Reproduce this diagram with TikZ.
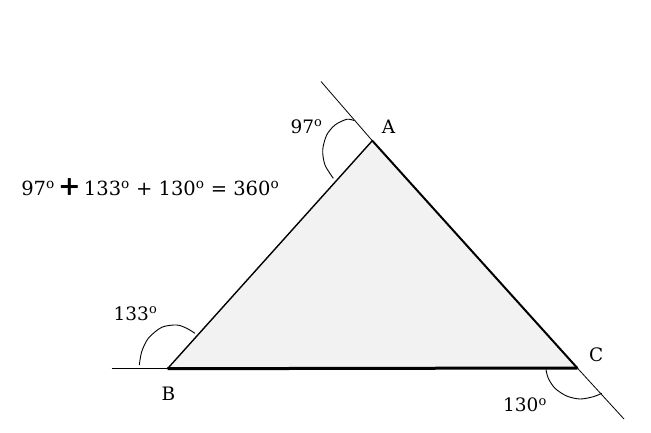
\documentclass[tikz,border=0pt]{standalone}
\usepackage{fontspec}
\setmainfont{DejaVu Serif}
\newcommand{\dg}{\textsuperscript{o}}
\begin{document}
\begin{tikzpicture}[x=1pt,y=-1pt,
  lbl/.style={inner sep=0pt,font=\fontsize{18.5}{22}\selectfont,anchor=base},
  ext/.style={line width=0.8pt},
  arcln/.style={line width=0.9pt}]
\useasboundingbox (0,0) rectangle (651,432);
\coordinate (A) at (372.3,140.7);
\coordinate (B) at (167.5,368.7);
\coordinate (C) at (577.3,368);
\coordinate (EA) at (321,81.5);
\coordinate (EC) at (624,419);
\coordinate (EB) at (111.5,368.7);
\fill[black!5] (A) -- (B) -- (C) -- cycle;
\draw[ext] (EA) -- (A);
\draw[ext] (C) -- (EC);
\draw[ext] (EB) -- (B);
\draw[line width=1.4pt] (A) -- (B);
\draw[line width=2pt,line cap=round] (A) -- (C);
\draw[line width=3pt] (B) -- (C);
% arcs
\draw[arcln] plot[smooth] coordinates {(354,120.5) (346.7,119.3) (335,125) (326.7,135) (322.7,150) (325,165) (333.3,178.3)};
\draw[arcln] plot[smooth] coordinates {(139.3,365) (141.7,351.7) (148.3,338.3) (161.7,327.3) (176.7,325) (186.7,328.3) (195,333.3)};
\draw[arcln] plot[smooth] coordinates {(546,369.5) (548.3,378.3) (555,388.3) (566.7,396) (580,399) (593.3,396.7) (601.7,393.3)};
% labels
\node[lbl] (lA) at (388.5,133) {A};
\node[lbl] (lB) at (168.5,400) {B};
\node[lbl] (lC) at (596.3,361.7) {C};
\node[lbl] (a97) at (306.5,133) {97\dg};
\node[lbl] (a133) at (135.5,320) {133\dg};
\node[lbl] (a130) at (525,411.7) {130\dg};
\node[lbl,font=\fontsize{19.5}{24}\selectfont] (eq) at (150.3,195.7) {97\dg\,{\fontsize{27}{27}\selectfont\bfseries +}\,133\dg{} + 130\dg{} = 360\dg};
\end{tikzpicture}
\end{document}
